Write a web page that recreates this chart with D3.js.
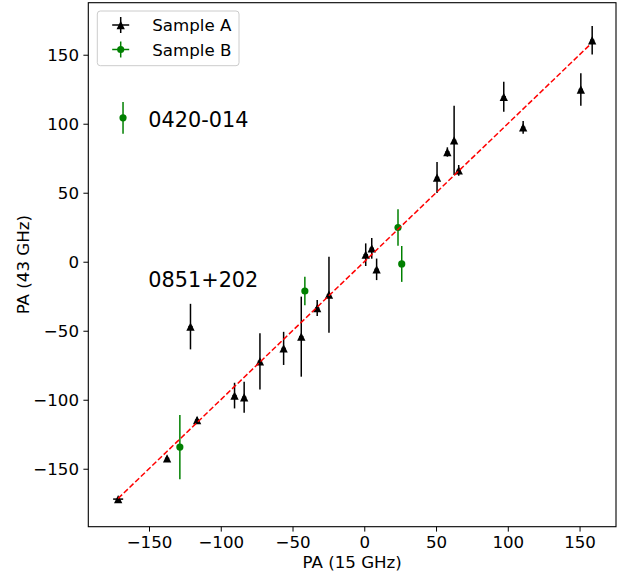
<!DOCTYPE html>
<html>
<head>
<meta charset="utf-8">
<script src="https://cdn.jsdelivr.net/npm/d3@7"></script>
<style>
  html, body { margin: 0; padding: 0; background: #fff; }
  svg { display: block; font-family: "DejaVu Sans", sans-serif; }
</style>
</head>
<body>
<svg id="chart" width="632" height="574"></svg>
<script>
// Position angles (deg) at 15 GHz vs 43 GHz
const sampleA_x    = [-171.5, -137.4, -121.1, -116.5, -90.4, -83.7, -72.7, -56.2, -43.9, -32.8, -24.6, 1.0, 5.2, 8.6, 50.7, 57.9, 62.6, 65.8, 97.2, 110.7, 150.9, 158.8];
const sampleA_y    = [-172.0, -142.5, -47.0, -114.7, -97.0, -98.2, -72.2, -62.8, -54.3, -33.6, -23.9, 5.1, 9.7, -5.5, 61.0, 79.5, 87.9, 66.2, 119.5, 97.4, 124.8, 160.5];
const sampleA_xerr = [3.5, 1.5, 1.5, 1.5, 1.5, 1.5, 1.5, 1.5, 1.5, 1.5, 1.5, 1.5, 1.5, 1.5, 1.5, 1.5, 1.5, 1.5, 1.5, 1.5, 1.5, 1.5];
const sampleA_yerr = [1.5, 2.0, 16.5, 2.0, 9.3, 11.2, 20.3, 12.0, 29.0, 5.8, 27.5, 8.2, 7.5, 7.8, 11.2, 3.4, 25.1, 3.9, 10.9, 4.6, 11.8, 10.3];

const sampleB_x    = [-168.1, -128.5, -41.4, 23.5, 26.1];
const sampleB_y    = [104.3, -134.3, -21.2, 24.8, -1.6];
const sampleB_xerr = [1.5, 1.5, 1.5, 1.5, 1.5];
const sampleB_yerr = [11.5, 23.3, 10.4, 13.2, 13.0];

// one-to-one reference line
const equalityRange = [-171.5, 157.5];

const xTicks = [-150, -100, -50, 0, 50, 100, 150];
const yTicks = [-150, -100, -50, 0, 50, 100, 150];

const seriesNames = ["Sample A", "Sample B"];
const sourceLabels = [
  { name: "0420-014", x: -150.5, y: 97.5 },
  { name: "0851+202", x: -150.5, y: -18.5 }
];

const margin = { left: 88.3, right: 616, top: 2.7, bottom: 526.7 };
const svg = d3.select("#chart");

const x = d3.scaleLinear().domain([-192.3, 175.4]).range([margin.left, margin.right]);
const y = d3.scaleLinear().domain([-192, 187.7]).range([margin.bottom, margin.top]);

const fontSize = 16.67;

// axes
const xAxis = d3.axisBottom(x).tickValues(xTicks).tickSize(4.9).tickPadding(4.4)
  .tickFormat(d => d < 0 ? "\u2212" + Math.abs(d) : String(d));
const yAxis = d3.axisLeft(y).tickValues(yTicks).tickSize(4.9).tickPadding(4.4)
  .tickFormat(d => d < 0 ? "\u2212" + Math.abs(d) : String(d));

const gx = svg.append("g").attr("transform", `translate(0,${margin.bottom})`).call(xAxis);
const gy = svg.append("g").attr("transform", `translate(${margin.left},0)`).call(yAxis);
[gx, gy].forEach(g => {
  g.select(".domain").remove();
  g.selectAll(".tick line").attr("stroke", "#000").attr("stroke-width", 1);
  g.selectAll(".tick text").attr("fill", "#000").attr("font-size", fontSize)
    .attr("font-family", "DejaVu Sans, sans-serif");
});

// frame
svg.append("rect")
  .attr("x", margin.left).attr("y", margin.top)
  .attr("width", margin.right - margin.left).attr("height", margin.bottom - margin.top)
  .attr("fill", "none").attr("stroke", "#000").attr("stroke-width", 1.1);

// axis titles
svg.append("text").attr("x", (margin.left + margin.right) / 2).attr("y", 567.5)
  .attr("text-anchor", "middle").attr("font-size", fontSize).text("PA (15 GHz)");
svg.append("text")
  .attr("transform", `translate(29,${(margin.top + margin.bottom) / 2}) rotate(-90)`)
  .attr("text-anchor", "middle").attr("font-size", fontSize).text("PA (43 GHz)");

const plot = svg.append("g");

function triPath(s) {
  const h = s / 2;
  return `M0,${-h}L${-h},${h}L${h},${h}Z`;
}

function drawSeries(xs, ys, xe, ye, color, marker) {
  const data = xs.map((v, i) => ({ x: v, y: ys[i], xe: xe[i], ye: ye[i] }));
  const g = plot.append("g");
  g.selectAll("line.ey").data(data).enter().append("line")
    .attr("x1", d => x(d.x)).attr("x2", d => x(d.x))
    .attr("y1", d => y(d.y - d.ye)).attr("y2", d => y(d.y + d.ye))
    .attr("stroke", color).attr("stroke-width", 1.5);
  g.selectAll("line.ex").data(data).enter().append("line")
    .attr("x1", d => x(d.x - d.xe)).attr("x2", d => x(d.x + d.xe))
    .attr("y1", d => y(d.y)).attr("y2", d => y(d.y))
    .attr("stroke", color).attr("stroke-width", 1.5);
  if (marker === "tri") {
    g.selectAll("path.m").data(data).enter().append("path")
      .attr("d", triPath(8.3))
      .attr("transform", d => `translate(${x(d.x)},${y(d.y)})`)
      .attr("fill", color);
  } else {
    g.selectAll("circle.m").data(data).enter().append("circle")
      .attr("cx", d => x(d.x)).attr("cy", d => y(d.y)).attr("r", 3.6)
      .attr("fill", color);
  }
}

drawSeries(sampleA_x, sampleA_y, sampleA_xerr, sampleA_yerr, "#000", "tri");
drawSeries(sampleB_x, sampleB_y, sampleB_xerr, sampleB_yerr, "#008000", "circle");

// one-to-one line
plot.append("line")
  .attr("x1", x(equalityRange[0])).attr("y1", y(equalityRange[0]))
  .attr("x2", x(equalityRange[1])).attr("y2", y(equalityRange[1]))
  .attr("stroke", "red").attr("stroke-width", 1.5)
  .attr("stroke-dasharray", "5.5,2.4");

// source labels
svg.selectAll("text.src").data(sourceLabels).enter().append("text")
  .attr("class", "src")
  .attr("x", d => x(d.x)).attr("y", d => y(d.y))
  .attr("font-size", 20.8).attr("fill", "#000").text(d => d.name);

// legend
const lg = svg.append("g");
lg.append("rect").attr("x", 97.3).attr("y", 11).attr("width", 141.7).attr("height", 54.7)
  .attr("rx", 3).attr("fill", "#fff").attr("fill-opacity", 0.8)
  .attr("stroke", "#ccc").attr("stroke-width", 1);
const legendItems = [
  { name: seriesNames[0], color: "#000", marker: "tri", cy: 25 },
  { name: seriesNames[1], color: "#008000", marker: "circle", cy: 49.5 }
];
legendItems.forEach(it => {
  const mx = 120.7;
  lg.append("line").attr("x1", mx - 8.5).attr("x2", mx + 8.5).attr("y1", it.cy).attr("y2", it.cy)
    .attr("stroke", it.color).attr("stroke-width", 1.5);
  lg.append("line").attr("x1", mx).attr("x2", mx).attr("y1", it.cy - 8).attr("y2", it.cy + 8)
    .attr("stroke", it.color).attr("stroke-width", 1.5);
  if (it.marker === "tri") {
    lg.append("path").attr("d", triPath(8.3)).attr("transform", `translate(${mx},${it.cy})`).attr("fill", it.color);
  } else {
    lg.append("circle").attr("cx", mx).attr("cy", it.cy).attr("r", 3.6).attr("fill", it.color);
  }
  lg.append("text").attr("x", 152.3).attr("y", it.cy + 6).attr("font-size", fontSize).text(it.name);
});
</script>
</body>
</html>
